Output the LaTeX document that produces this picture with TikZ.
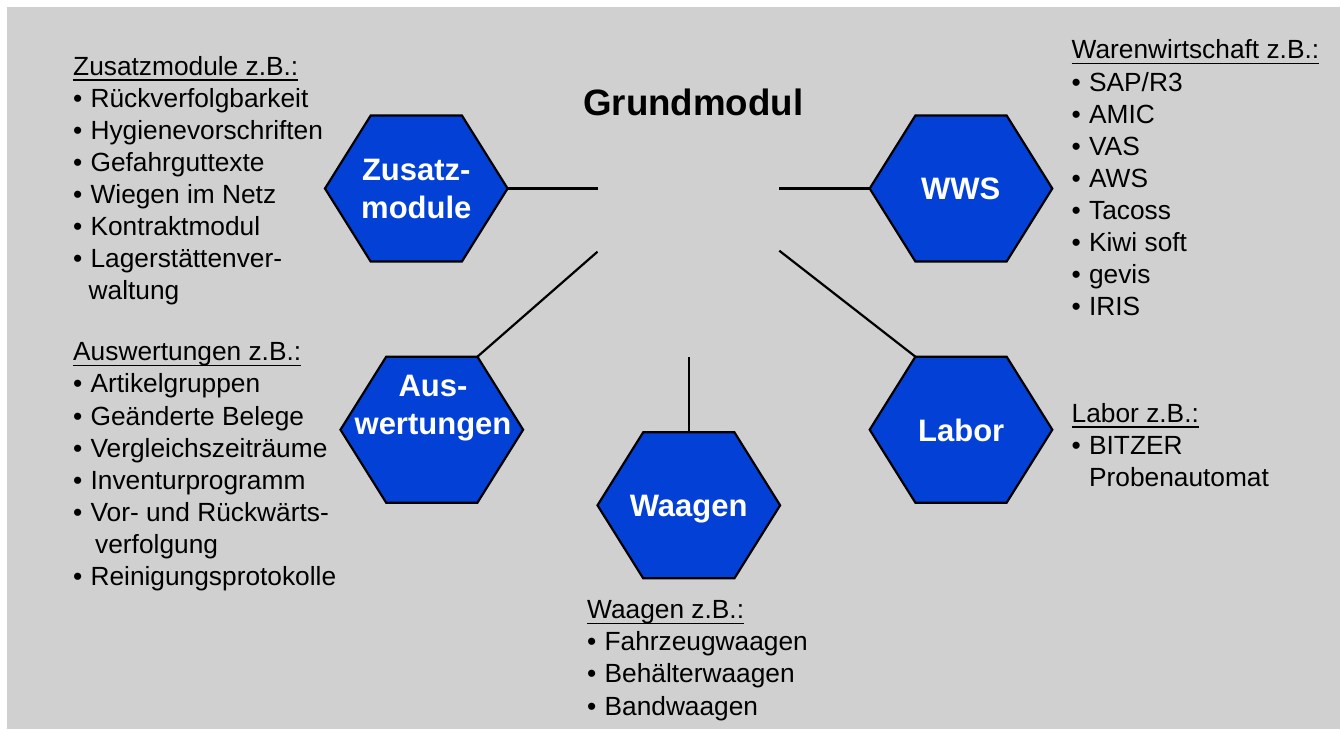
\documentclass[tikz,border=0pt]{standalone}
\usepackage{fontspec}
\setmainfont{Liberation Sans}
\usetikzlibrary{calc}
\definecolor{bggray}{RGB}{208,208,208}
\definecolor{hexblue}{RGB}{3,65,214}
\newcommand\hdr[1]{\setbox0\hbox{#1}\rlap{\rule[-5.5pt]{\wd0}{1.7pt}}\box0}
\newcommand\bul{\makebox[17.4pt][l]{•}}
\newcommand\ind{\hspace*{17.4pt}}
\newcommand\drawhex[3]{%
  \coordinate (#1) at (#2,#3);
  \coordinate (#1-w) at ($(#1)+(-91.3,0)$);
  \coordinate (#1-nw) at ($(#1)+(-45.6,-73)$);
  \coordinate (#1-n) at ($(#1)+(0,-73)$);
  \coordinate (#1-ne) at ($(#1)+(45.6,-73)$);
  \coordinate (#1-e) at ($(#1)+(91.3,0)$);
  \coordinate (#1-se) at ($(#1)+(45.6,73)$);
  \coordinate (#1-sw) at ($(#1)+(-45.6,73)$);
  \draw[hexshape] (#1-w) -- (#1-nw) -- (#1-ne) -- (#1-e) -- (#1-se) -- (#1-sw) -- cycle;
}
\begin{document}
\begin{tikzpicture}[x=1pt,y=-1pt,
  hexshape/.style={draw=black,line width=2.2pt,fill=hexblue,line join=miter},
  hexlabel/.style={text=white,font=\fontsize{31}{37.3}\selectfont\bfseries,align=center,inner sep=0pt},
  conn/.style={line width=2.2pt,draw=black},
  list/.style={font=\fontsize{26.3}{32.1}\selectfont,align=left,inner sep=0pt,anchor=base west},
]
\useasboundingbox (0,0) rectangle (1340,729);
\fill[bggray] (7,7) rectangle (1340,729);

% hexagons
\drawhex{Z}{416.3}{188.5}
\drawhex{W}{961}{188.5}
\drawhex{A}{431.8}{429.7}
\drawhex{L}{961}{429.7}
\drawhex{G}{688.8}{505.3}

% hexagon labels
\node[hexlabel] (zl) at (416.3,189) {Zusatz-\\module};
\node[hexlabel,anchor=base] (wl) at (960.8,199.3) {WWS};
\node[hexlabel] (al) at (433,408) {Aus-\\wertungen};
\node[hexlabel,anchor=base] (ll) at (961.2,441) {Labor};
\node[hexlabel,anchor=base] (gl) at (688.7,516.7) {Waagen};

% title
\node[font=\fontsize{36.7}{44}\selectfont\bfseries,anchor=base,inner sep=0pt] (title) at (693.3,115) {Grundmodul};

% free ends of connectors
\coordinate (c1) at (597.7,188.5);
\coordinate (c2) at (779.3,188.5);
\coordinate (c3) at (597.5,251.7);
\coordinate (c4) at (779.3,250.7);
\coordinate (c5) at (688.8,356.7);

\draw[conn] (Z-e) -- (c1);
\draw[conn] (W-w) -- (c2);
\draw[conn] (A-ne) -- (c3);
\draw[conn] (L-nw) -- (c4);
\draw[conn] (G-n) -- (c5);

% text blocks (anchored at the baseline of their last line)
\node[list] (zus) at (73,299.8) {\hdr{Zusatzmodule z.B.:}\\
\bul Rückverfolgbarkeit\\
\bul Hygienevorschriften\\
\bul Gefahrguttexte\\
\bul Wiegen im Netz\\
\bul Kontraktmodul\\
\bul Lagerstättenver-\\
\hspace*{15.5pt}waltung};

\node[list] (ausw) at (73,585.5) {\hdr{Auswertungen z.B.:}\\
\bul Artikelgruppen\\
\bul Geänderte Belege\\
\bul Vergleichszeiträume\\
\bul Inventurprogramm\\
\bul Vor- und Rückwärts-\\
\hspace*{22pt}verfolgung\\
\bul Reinigungsprotokolle};

\node[list] (waren) at (1071.5,315.7) {\hdr{Warenwirtschaft z.B.:}\\
\bul SAP/R3\\
\bul AMIC\\
\bul VAS\\
\bul AWS\\
\bul Tacoss\\
\bul Kiwi soft\\
\bul gevis\\
\bul IRIS};

\node[list] (lab) at (1071.5,486.7) {\hdr{Labor z.B.:}\\
\bul BITZER\\
\ind Probenautomat};

\node[list] (waag) at (587,715) {\hdr{Waagen z.B.:}\\
\bul Fahrzeugwaagen\\
\bul Behälterwaagen\\
\bul Bandwaagen};
\end{tikzpicture}
\end{document}
